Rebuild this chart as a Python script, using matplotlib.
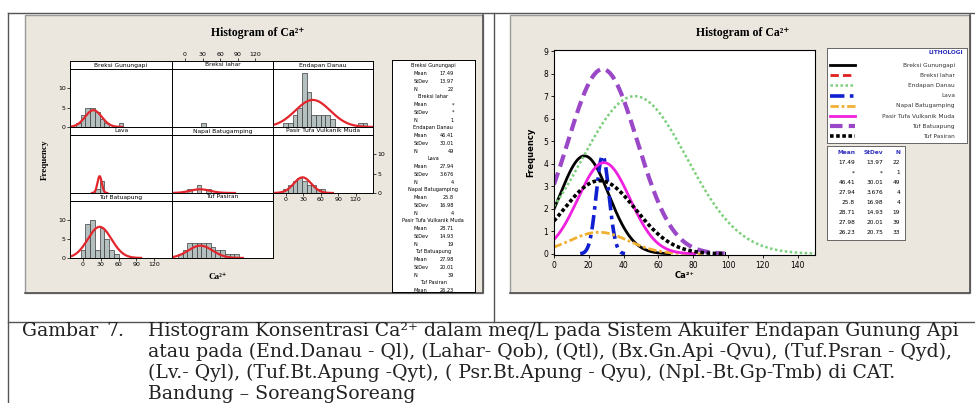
import numpy as np
import matplotlib.pyplot as plt
from matplotlib.patches import Rectangle

W, H = 975, 403
fig = plt.figure(figsize=(W / 100, H / 100), dpi=100)


def px_axes(x0, y0, x1, y1, **kw):
    # axes placed in pixel coordinates (origin top-left)
    return fig.add_axes([x0 / W, 1 - y1 / H, (x1 - x0) / W, (y1 - y0) / H], **kw)


# ---- data ----
groups = ['Breksi Gunungapi', 'Breksi lahar', 'Endapan Danau', 'Lava',
          'Napal Batugamping', 'Pasir Tufa Vulkanik Muda', 'Tuf Batuapung', 'Tuf Pasiran']
mean_txt = ['17.49', '*', '46.41', '27.94', '25.8', '28.71', '27.98', '26.23']
sd_txt = ['13.97', '*', '30.01', '3.676', '16.98', '14.93', '20.01', '20.75']
n_obs = [22, 1, 49, 4, 4, 19, 39, 33]
peak = [4.35, 0, 7.0, 4.35, 0.96, 4.05, 8.2, 3.25]   # height of fitted curve

bin_mid = [-8, 0, 8, 16, 24, 32, 40, 48, 56, 64, 72, 80, 88, 96, 104, 112, 120, 128, 136]
hist_counts = [
    [1, 3, 5, 5, 4, 2, 1, 0, 0, 1, 0, 0, 0, 0, 0, 0, 0, 0, 0],
    [0, 0, 0, 0, 0, 1, 0, 0, 0, 0, 0, 0, 0, 0, 0, 0, 0, 0, 0],
    [0, 1, 1, 3, 5, 14, 9, 3, 3, 3, 3, 2, 0, 0, 0, 0, 0, 1, 1],
    [0, 0, 0, 0, 1, 3, 0, 0, 0, 0, 0, 0, 0, 0, 0, 0, 0, 0, 0],
    [0, 0, 1, 0, 2, 0, 1, 0, 0, 0, 0, 0, 0, 0, 0, 0, 0, 0, 0],
    [0, 1, 2, 3, 4, 3, 2, 2, 1, 1, 0, 0, 0, 0, 0, 0, 0, 0, 0],
    [0, 2, 9, 10, 2, 8, 5, 2, 1, 0, 0, 0, 0, 0, 0, 0, 0, 0, 0],
    [1, 2, 4, 4, 4, 4, 4, 3, 2, 2, 1, 1, 1, 0, 0, 0, 0, 0, 0],
]

line_col = ['black', '#e02020', '#7ccf7c', '#1020d0', '#f0b030', '#f020e0', '#9a48c8', 'black']
line_sty = ['-', (0, (3, 1.5)), (0, (1, 1)), (0, (4, 1.5, 1, 1.5)), (0, (3, 1, 1, 1)), '-', (0, (3, 1.5)), (0, (1, 0.7))]
line_w = [2.0, 2.0, 1.8, 2.6, 2.0, 2.0, 3.0, 2.6]

caption = [
    'Histogram Konsentrasi Ca²⁺ dalam meq/L pada Sistem Akuifer Endapan Gunung Api',
    'atau pada (End.Danau - Ql), (Lahar- Qob), (Qtl), (Bx.Gn.Api -Qvu), (Tuf.Psran - Qyd),',
    '(Lv.- Qyl), (Tuf.Bt.Apung -Qyt), ( Psr.Bt.Apung - Qyu), (Npl.-Bt.Gp-Tmb) di CAT.',
    'Bandung – SoreangSoreang',
]

BEIGE = '#ece7de'
SERIF = ['Liberation Serif', 'DejaVu Serif']


def curve(i, lo, hi):
    m = float(mean_txt[i])
    s = float(sd_txt[i])
    x = np.linspace(max(lo, m - 3.5 * s), min(hi, m + 3.5 * s), 300)
    return x, peak[i] * np.exp(-0.5 * ((x - m) / s) ** 2)


# ---- page background, table rules, caption ----
bg = fig.add_axes([0, 0, 1, 1])
bg.set_xlim(0, W)
bg.set_ylim(H, 0)
bg.axis('off')
bg.plot([8, 8], [13, H], color='#555555', lw=1)
bg.plot([8, W], [13, 13], color='#555555', lw=1)
bg.plot([494, 494], [13, 322], color='#555555', lw=1)
bg.plot([8, W], [322, 322], color='#555555', lw=1)
for x0, x1 in [(25, 483), (510, 970)]:
    bg.add_patch(Rectangle((x0, 15), x1 - x0, 278, facecolor=BEIGE, edgecolor='#9a9a9a', lw=1))
    bg.plot([x0, x1, x1], [293, 293, 15], color='#505050', lw=1.2)

cap_font = dict(family='DejaVu Serif', fontsize=13.6, va='baseline', color='#222222')
bg.text(22, 336, 'Gambar', **cap_font)
bg.text(106, 336, '7.', **cap_font)
for k, line in enumerate(caption):
    bg.text(148, 336 + 21 * k, line, **cap_font)

# ---- left panel: paneled histograms ----
bg.text(258, 33, 'Histogram of Ca²⁺', family=SERIF, fontweight='bold', fontsize=8.5, ha='center', va='center')
bg.text(45, 160, 'Frequency', family=SERIF, fontweight='bold', fontsize=6.5, rotation=90, ha='center', va='center')
bg.text(218, 277, 'Ca²⁺', family=SERIF, fontweight='bold', fontsize=6.5, ha='center', va='center')

col_x = [(70, 172), (172, 273), (273, 373)]
row_y = [(61, 69, 127), (127, 135, 193), (193, 201, 258)]
xt = [0, 30, 60, 90, 120]
for i, name in enumerate(groups):
    r, c = divmod(i, 3)
    x0, x1 = col_x[c]
    s0, s1, p1 = row_y[r]
    st = px_axes(x0, s0, x1, s1)
    st.set_facecolor('white')
    st.set_xlim(-22, 150)
    st.set_xticks(xt)
    st.set_yticks([])
    st.tick_params(bottom=False, labelbottom=False, length=2, width=0.5, labelsize=4.5, pad=1)
    if r == 0 and c == 1:
        st.tick_params(top=True, labeltop=True)
    st.text(0.5, 0.5, name, transform=st.transAxes, ha='center', va='center', fontsize=4.3)
    for sp in st.spines.values():
        sp.set_linewidth(0.7)

    ax = px_axes(x0, s1, x1, p1)
    ax.bar(bin_mid, hist_counts[i], width=8, color='#b4c0c0', edgecolor='#3c3c3c', linewidth=0.5)
    if peak[i] > 0:
        cx, cy = curve(i, -22, 150)
        ax.plot(cx, cy, color='#e3262c', lw=1.6)
    ax.set_xlim(-22, 150)
    ax.set_ylim(0, 15)
    ax.set_xticks(xt)
    ax.set_yticks([0, 5, 10])
    ax.tick_params(bottom=False, left=False, labelbottom=False, labelleft=False,
                   length=2, width=0.5, labelsize=4.5, pad=1)
    if c == 0 and r in (0, 2):
        ax.tick_params(left=True, labelleft=True)
    if c == 2 and r == 1:
        ax.tick_params(right=True, labelright=True)
    if (r, c) in [(2, 0), (1, 2)]:
        ax.tick_params(bottom=True, labelbottom=True)
    for sp in ax.spines.values():
        sp.set_linewidth(0.7)

# stats box for the paneled histogram (last block runs off the bottom)
sb = px_axes(392, 60, 475, 292)
sb.set_xlim(0, 83)
sb.set_ylim(232, 0)
sb.set_xticks([])
sb.set_yticks([])
sb.set_facecolor('white')
for sp in sb.spines.values():
    sp.set_linewidth(0.7)
for i, name in enumerate(groups):
    y = 6 + 31 * i
    sb.text(41, y, name, ha='center', va='center', fontsize=3.6, clip_on=True)
    for k, (lab, val) in enumerate([('Mean', mean_txt[i]), ('StDev', sd_txt[i]), ('N', str(n_obs[i]))]):
        sb.text(22, y + 7.7 * (k + 1), lab, ha='left', va='center', fontsize=3.6, clip_on=True)
        sb.text(62, y + 7.7 * (k + 1), val, ha='right', va='center', fontsize=3.6, clip_on=True)

# ---- right panel: overlaid fitted curves ----
bg.text(743, 33, 'Histogram of Ca²⁺', family=SERIF, fontweight='bold', fontsize=8.5, ha='center', va='center')
ax2 = px_axes(554, 50, 815, 255)
for i in range(len(groups)):
    if peak[i] > 0:
        cx, cy = curve(i, 0, 150)
        ax2.plot(cx, cy, color=line_col[i], ls=line_sty[i], lw=line_w[i])
ax2.set_xlim(0, 150)
ax2.set_ylim(-0.05, 9.05)
ax2.set_xticks(range(0, 141, 20))
ax2.set_yticks(range(0, 10))
ax2.tick_params(length=2.5, width=0.6, labelsize=5.5, pad=1.5)
ax2.set_ylabel('Frequency', fontsize=6, fontweight='bold', labelpad=6)
ax2.set_xlabel('Ca²⁺', fontsize=6, fontweight='bold', labelpad=1)
for sp in ax2.spines.values():
    sp.set_linewidth(0.8)

# legend
lg = px_axes(827, 48, 967, 143)
lg.set_xlim(0, 140)
lg.set_ylim(95, 0)
lg.set_xticks([])
lg.set_yticks([])
for sp in lg.spines.values():
    sp.set_linewidth(0.7)
    sp.set_color('#666666')
lg.text(136, 5, 'LITHOLOGI', color='#3030c0', fontweight='bold', fontsize=4.2, ha='right', va='center')
for i, name in enumerate(groups):
    y = 17 + 10.2 * i
    lg.plot([3, 28], [y, y], color=line_col[i], ls=line_sty[i], lw=line_w[i])
    lg.text(128, y, name, fontsize=4.2, ha='right', va='center', color='#333333')

# summary table
tb = px_axes(827, 146, 905, 240)
tb.set_xlim(0, 78)
tb.set_ylim(94, 0)
tb.set_xticks([])
tb.set_yticks([])
for sp in tb.spines.values():
    sp.set_linewidth(0.7)
    sp.set_color('#666666')
for x, lab in [(28, 'Mean'), (56, 'StDev'), (73, 'N')]:
    tb.text(x, 7, lab, color='#3030c0', fontweight='bold', fontsize=4.2, ha='right', va='center')
for i in range(len(groups)):
    y = 17 + 10 * i
    tb.text(28, y, mean_txt[i], fontsize=4.2, ha='right', va='center')
    tb.text(56, y, sd_txt[i], fontsize=4.2, ha='right', va='center')
    tb.text(73, y, str(n_obs[i]), fontsize=4.2, ha='right', va='center')

fig.savefig('out.png', dpi=100)
